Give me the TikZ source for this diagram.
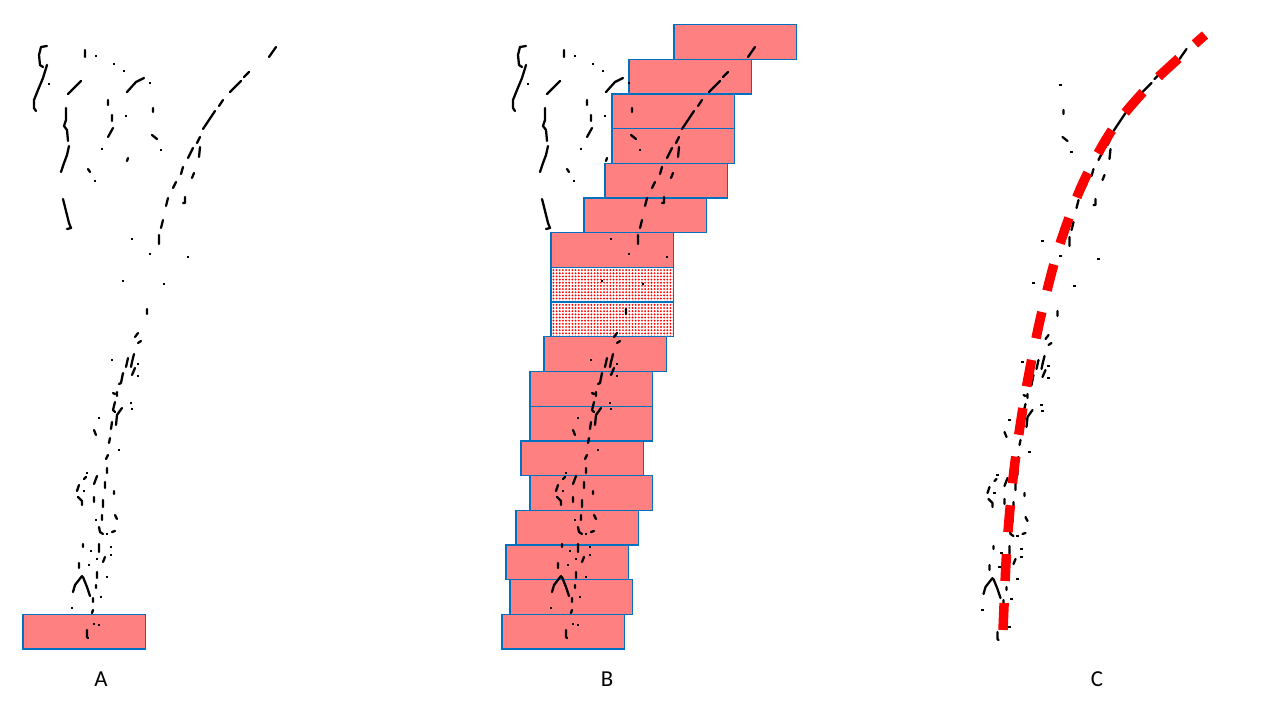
\documentclass[tikz,border=0pt]{standalone}
\usepackage{fontspec}
\setmainfont{Carlito}
\usepackage{tikz}
\usetikzlibrary{
  patterns.meta % 点状填充（空窗口）
}
\definecolor{tilefill}{HTML}{FF8080}
\definecolor{tileedge}{HTML}{0070C0}
\tikzset{
  frag/.style={
    black,
    line width=1.3pt,
    line cap=round,
    line join=round
  },
  tile/.style={
    draw=tileedge,
    fill=tilefill,
    line width=0.75pt
  },
  gap tile/.style={
    draw=tileedge,
    line width=0.75pt,
    pattern={Dots[distance=1.8pt, radius=0.6pt]},
    pattern color=red
  },
  trace/.style={
    red,
    line width=0.19cm,
    dash pattern=on 0.54cm off 0.44cm
  },
  panel label/.style={
    font=\fontsize{13}{15}\selectfont
  }
}

% 左侧人影的边缘碎片（只在 A、B 中出现）
\newcommand\figurefrags{%
  \draw[frag] (47,46) -- (41,47) -- (39,55) -- (40,65) -- (43,67)
    (47,65) -- (43,78) -- (38,90) -- (34,100) -- (34,108) -- (36,111)
    (85,50) -- (85,57)
    (81,81) -- (68,94)
    (144,78) -- (136,82) -- (127,92)
    (108,100) -- (108,105)
    (112,115) -- (112,121)
    (66,108) -- (66,120) -- (64,126) -- (67,130) -- (68,141)
    (69,146) -- (67,155) -- (64,163) -- (61,172)
    (113,128) -- (108,137)
    (128,158) -- (127,161)
    (88,169) -- (90,172)
    (63,199) -- (65,207) -- (67,215) -- (69,223) -- (71,228) -- (67,229);
  \foreach \x/\y in {49/84, 96/56, 114/64, 124/71, 126/116, 102/149, 95/181}
    \fill (\x-1.2,\y-1.2) rectangle ++(2.4,2.4);
}

% 茎秆与上方曲线的边缘碎片（A、B、C 共用）
\newcommand\stemfrags{%
  \draw[frag] (276,47) -- (269,57)
    (249,72) -- (244,77)
    (241,81) -- (230,92)
    (223,100) -- (219,106)
    (215,111) -- (203,129)
    (200,137) -- (197,143)
    (193,148) -- (188,158)
    (200,147) -- (199,157)
    (183,167) -- (181,174)
    (194,173) -- (192,178)
    (176,182) -- (173,188)
    (168,198) -- (166,206)
    (185,197) -- (185,203) -- (183,203)
    (163,220) -- (161,228)
    (159,235) -- (159,244)
    (153,108) -- (153,112)
    (152,135) -- (157,139)
    (147,309) -- (147,314)
    (138,333) -- (135,337)
    (138,343) -- (141,341)
    (134,354) -- (132,362) -- (131,367)
    (128,358) -- (126,367)
    (135,368) -- (132,375)
    (123,373) -- (121,383) -- (119,384)
    (113,393) -- (115,394)
    (117,392) -- (117,396)
    (115,402) -- (113,410) -- (115,412)
    (122,408) -- (117,415) -- (116,425)
    (112,422) -- (111,429)
    (94,430) -- (96,435)
    (110,438) -- (109,443)
    (108,455) -- (106,459)
    (107,468) -- (107,473)
    (97,476) -- (94,484)
    (86,477) -- (84,479)
    (105,482) -- (105,488)
    (79,485) -- (77,491)
    (114,491) -- (114,494)
    (78,497) -- (82,501) -- (82,505)
    (94,497) -- (94,502)
    (103,500) -- (103,507)
    (102,515) -- (102,520)
    (115,515) -- (117,519)
    (99,527) -- (100,532) -- (103,534)
    (112,532) -- (115,531)
    (83,544) -- (83,547)
    (99,544) -- (99,552)
    (105,557) -- (103,562)
    (79,563) -- (79,568)
    (97,572) -- (97,578)
    (82,576) -- (75,585) -- (73,592)
    (83,577) -- (87,587) -- (90,596)
    (96,585) -- (96,588)
    (93,598) -- (93,602)
    (93,610) -- (92,613)
    (87,630) -- (87,637) -- (88,638);
  \foreach \x/\y in {150/83, 161/150, 132/239, 150/254, 188/257, 123/281,
      164/284, 112/360, 138/364, 138/376, 131/403, 132/409, 99/418, 119/450,
      87/473, 84/491, 96/520, 107/534, 91/551, 111/547, 111/555, 97/559,
      89/565, 107/577, 101/597, 72/608, 94/624, 99/625}
    \fill (\x-1.2,\y-1.2) rectangle ++(2.4,2.4);
}

\begin{document}
\begin{tikzpicture}[x=0.02cm, y=-0.02cm]
    \useasboundingbox (0,0) rectangle (1266,716);

    % 1. A：只有最下面一个窗口
    \draw[tile] (23,614.4) rectangle ++(122.5,34.7);
    \figurefrags
    \stemfrags
    \node[panel label] (labA) at (101,679) {A};

    % 2. B：逐行上移的窗口，两格为空
    \foreach \x/\s [count=\k from 0] in {674/tile, 629/tile, 612/tile, 612/tile,
        605/tile, 584/tile, 551/tile, 551/gap tile, 551/gap tile, 544/tile,
        530/tile, 530/tile, 521/tile, 530/tile, 516/tile, 506/tile, 510/tile,
        502/tile}
      \draw[\s] (\x,24.5+34.7*\k) rectangle ++(122.5,34.7);
    \begin{scope}[shift={(479,0)}]
      \figurefrags
      \stemfrags
    \end{scope}
    \node[panel label] (labB) at (607,679) {B};

    % 3. C：拟合出的红色虚线
    \begin{scope}[shift={(910.5,2)}]
      \stemfrags
    \end{scope}
    \draw[trace] plot[smooth] coordinates {(1003,630) (1007,545) (1014,470)
      (1025,395) (1040,320) (1058,250) (1082,185) (1112,130) (1150,85)
      (1205,35)};
    \node[panel label] (labC) at (1097,679) {C};

  \end{tikzpicture}
\end{document}
